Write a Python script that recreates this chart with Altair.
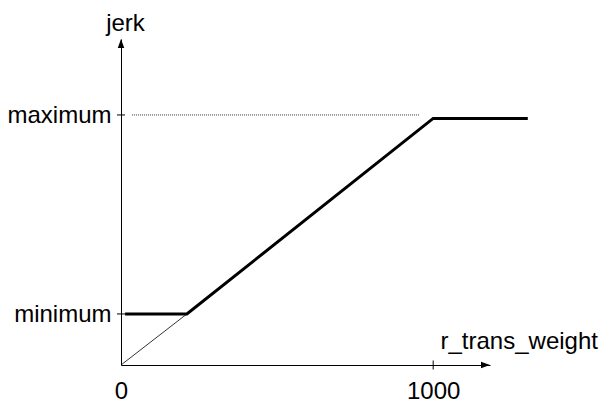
import altair as alt
import pandas as pd

# ---- data ----
curve_weight = [13, 211, 1000, 1303]
curve_jerk = [207, 207, 1000, 1000]
thin_weight = [0, 211]
thin_jerk = [0, 207]
ref_weight = [35, 957]
ref_jerk = [1014, 1014]
x_tick_values = [0, 1000]
x_tick_labels = ["0", "1000"]
y_tick_values = [207, 1014]
y_tick_labels = ["minimum", "maximum"]
x_end = 1182
y_end = 1322

FONT = "Liberation Sans"
FS = 24

curve = pd.DataFrame({"w": curve_weight, "j": curve_jerk})
thin = pd.DataFrame({"w": thin_weight, "j": thin_jerk})
ref = pd.DataFrame({"w": ref_weight, "j": ref_jerk})
xt = pd.DataFrame({"w": x_tick_values[1:], "j": [0] * len(x_tick_values[1:])})
yt = pd.DataFrame({"w": [0] * len(y_tick_values), "j": y_tick_values})
xarrow = pd.DataFrame({"w": [x_end], "j": [0]})
yarrow = pd.DataFrame({"w": [0], "j": [y_end]})

xscale = alt.Scale(domain=[0, x_end], nice=False, zero=False)
yscale = alt.Scale(domain=[0, y_end], nice=False, zero=False)


def label_expr(values, labels):
    expr = "''"
    for v, l in zip(values, labels):
        expr = f"datum.value == {v} ? '{l}' : ({expr})"
    return expr


xaxis = alt.Axis(
    values=x_tick_values,
    labelExpr=label_expr(x_tick_values, x_tick_labels),
    ticks=False, tickSize=0, grid=False,
    domainColor="black", domainWidth=1,
    labelFont=FONT, labelFontSize=FS, labelColor="black",
    labelBaseline="alphabetic", labelPadding=33.5,
    labelFlush=False, labelOverlap=False, labelBound=False,
    title="r_trans_weight", titleFont=FONT, titleFontSize=FS,
    titleFontWeight="normal", titleColor="black",
    titleAlign="left", titleBaseline="alphabetic",
    titleX=319, titleY=-16.5, titleAngle=0,
)
yaxis = alt.Axis(
    values=y_tick_values,
    labelExpr=label_expr(y_tick_values, y_tick_labels),
    ticks=False, tickSize=0, grid=False,
    domainColor="black", domainWidth=1,
    labelFont=FONT, labelFontSize=FS, labelColor="black",
    labelAlign="right", labelBaseline="alphabetic", labelPadding=10,
    labelOffset=8,
    labelFlush=False, labelOverlap=False, labelBound=False,
    title="jerk", titleFont=FONT, titleFontSize=FS,
    titleFontWeight="normal", titleColor="black",
    titleAlign="center", titleBaseline="alphabetic",
    titleX=4, titleY=-9, titleAngle=0,
)

X = alt.X("w:Q", scale=xscale, axis=xaxis)
Y = alt.Y("j:Q", scale=yscale, axis=yaxis)
Xn = alt.X("w:Q", scale=xscale)
Yn = alt.Y("j:Q", scale=yscale)

thick = alt.Chart(curve).mark_line(
    color="black", strokeWidth=3, strokeJoin="miter", strokeCap="butt"
).encode(x=X, y=Y)

thin_line = alt.Chart(thin).mark_line(
    color="black", strokeWidth=0.8
).encode(x=Xn, y=Yn)

dotted = alt.Chart(ref).mark_line(
    color="#222222", strokeWidth=0.9, strokeDash=[1, 1]
).encode(x=Xn, y=Yn)

xticks = alt.Chart(xt).mark_tick(
    orient="vertical", size=9, thickness=1, color="black", opacity=1
).encode(x=Xn, y=Yn)

yticks = alt.Chart(yt).mark_tick(
    orient="horizontal", size=8, thickness=1, color="black", opacity=1
).encode(x=Xn, y=Yn)

xhead = alt.Chart(xarrow).mark_point(
    shape="M 0 0 L -1.8 -0.65 L -1.8 0.65 Z", size=100,
    filled=True, color="black", opacity=1, strokeWidth=0
).encode(x=Xn, y=Yn)

yhead = alt.Chart(yarrow).mark_point(
    shape="M 0 0 L -0.65 1.8 L 0.65 1.8 Z", size=100,
    filled=True, color="black", opacity=1, strokeWidth=0
).encode(x=Xn, y=Yn)

chart = alt.layer(
    thick, thin_line, dotted, xticks, yticks, xhead, yhead
).properties(
    width=369, height=326,
    padding={"left": 113, "top": 31, "right": 109, "bottom": 42},
    autosize=alt.AutoSizeParams(type="none"),
    background="white",
).configure_view(stroke=None)

chart.save("out.html", embed_options={"renderer": "svg", "actions": False})
